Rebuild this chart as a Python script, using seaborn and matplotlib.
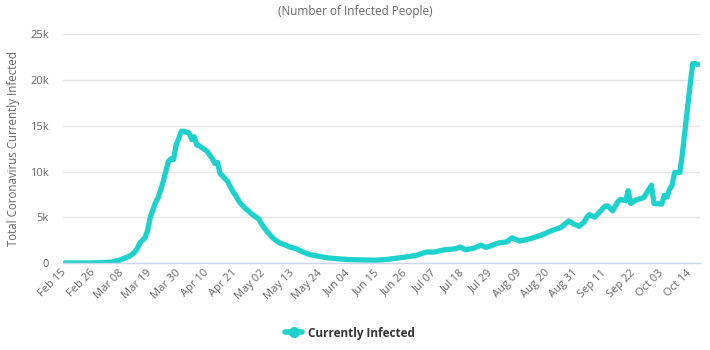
import matplotlib
matplotlib.use("Agg")
import matplotlib.pyplot as plt
from matplotlib.lines import Line2D
from matplotlib.ticker import FuncFormatter
import seaborn as sns
import pandas as pd

# ---- data ----
start_date = "2020-02-15"
day_offsets = [0, 5, 10, 15, 18, 21, 25, 27, 28, 29, 31, 32, 33, 34, 35, 36, 38, 40, 41, 42,
               43, 44, 45, 46, 47, 48, 49, 50, 51, 52, 53, 54, 55, 56, 57, 58, 59, 60, 61, 62,
               63, 64, 65, 66, 67, 68, 69, 70, 71, 72, 73, 74, 75, 76, 77, 78, 79, 80, 81, 82,
               83, 85, 87, 89, 90, 92, 95, 98, 102, 106, 110, 115, 120, 125, 129, 133, 136, 140, 143, 147,
               151, 153, 155, 158, 161, 163, 168, 171, 173, 176, 180, 184, 188, 192, 195, 197, 199, 201, 202, 203,
               205, 207, 209, 210, 212, 214, 215, 217, 218, 219, 221, 223, 224, 226, 227, 228, 231, 232, 233, 234,
               235, 236, 238, 239, 240, 241, 242, 243, 244, 245]
infected = [0, 0, 0, 50, 100, 300, 750, 1200, 1600, 2200, 2800, 3600, 5000, 5800, 6600, 7100, 8900, 11100, 11400, 11300,
            12900, 13600, 14400, 14400, 14300, 14200, 13500, 13800, 12900, 12800, 12600, 12400, 12200, 11800, 11400, 10900, 11000, 9800, 9500, 9200,
            8900, 8300, 7800, 7400, 6900, 6500, 6200, 5900, 5700, 5400, 5200, 5000, 4800, 4300, 3900, 3500, 3200, 2850, 2600, 2400,
            2200, 2000, 1750, 1600, 1500, 1200, 900, 750, 550, 450, 370, 330, 300, 400, 550, 700, 850, 1200, 1200, 1450,
            1550, 1750, 1450, 1600, 1950, 1700, 2200, 2300, 2750, 2400, 2650, 3000, 3500, 3900, 4600, 4250, 4000, 4500, 5000, 5300,
            5000, 5600, 6200, 6250, 5700, 6700, 6950, 6800, 7900, 6500, 6900, 7050, 7150, 8050, 8500, 6500, 6450, 7400, 7200, 8050,
            8500, 9900, 9900, 12000, 14500, 17000, 19500, 21800, 21800, 21700]
tick_labels = ["Feb 15", "Feb 26", "Mar 08", "Mar 19", "Mar 30", "Apr 10", "Apr 21", "May 02",
               "May 13", "May 24", "Jun 04", "Jun 15", "Jun 26", "Jul 07", "Jul 18", "Jul 29",
               "Aug 09", "Aug 20", "Aug 31", "Sep 11", "Sep 22", "Oct 03", "Oct 14"]
y_ticks = [0, 5000, 10000, 15000, 20000, 25000]
series_name = "Currently Infected"

dates = pd.Timestamp(start_date) + pd.to_timedelta(day_offsets, unit="D")
df = pd.DataFrame({"date": dates, "value": infected})
tick_dates = [pd.Timestamp(start_date) + pd.Timedelta(days=11 * i) for i in range(len(tick_labels))]

sns.set_theme(style="white")
plt.rcParams["font.family"] = ["Open Sans", "DejaVu Sans"]

W, H = 710, 350
fig = plt.figure(figsize=(W / 100, H / 100), dpi=100)
ax = fig.add_axes([63 / W, 1 - 263 / H, (700 - 63) / W, (263 - 34.3) / H])

color = "#1dd2cc"
sns.lineplot(data=df, x="date", y="value", ax=ax, color=color, linewidth=3.8,
             solid_capstyle="round", solid_joinstyle="round", legend=False)

ax.set_ylim(0, 25000)
ax.set_xlim(pd.Timestamp(start_date) - pd.Timedelta(hours=19),
            pd.Timestamp(start_date) + pd.Timedelta(days=245.8))
ax.set_yticks(y_ticks)
ax.yaxis.set_major_formatter(FuncFormatter(lambda v, p: "0" if v == 0 else f"{int(v / 1000)}k"))
ax.set_xticks(tick_dates)
ax.set_xticklabels(tick_labels)

ax.grid(axis="y", color="#e6e6e6", linewidth=1)
ax.grid(axis="x", visible=False)
ax.set_axisbelow(True)
for s in ["top", "right", "left"]:
    ax.spines[s].set_visible(False)
ax.spines["bottom"].set_color("#ccd6eb")
ax.spines["bottom"].set_linewidth(1)

ax.tick_params(axis="y", length=0, pad=10, labelsize=8, labelcolor="#666666")
ax.tick_params(axis="x", length=0, pad=6, labelsize=8, labelcolor="#666666")
for lbl in ax.get_xticklabels():
    lbl.set_rotation(45)
    lbl.set_ha("right")
    lbl.set_va("center")
    lbl.set_rotation_mode("anchor")

ax.set_xlabel("")
ax.set_ylabel("Total Coronavirus Currently Infected", fontsize=8.3, color="#666666")
ax.yaxis.set_label_coords((20 - 63) / (700 - 63), 0.5)

fig.text(0.5, 1 - 12 / H, "(Number of Infected People)", ha="center", va="center",
         fontsize=8.5, color="#666666")

handle = Line2D([0], [0], color=color, linewidth=4, marker="o", markersize=7)
leg = fig.legend([handle], [series_name], loc="center", bbox_to_anchor=(350 / W, 1 - 333 / H),
                 frameon=False, handlelength=1.5, handletextpad=0.5,
                 prop={"weight": "bold", "size": 8.5})
for t in leg.get_texts():
    t.set_color("#333333")

fig.savefig("out.png", dpi=100, facecolor="white")
